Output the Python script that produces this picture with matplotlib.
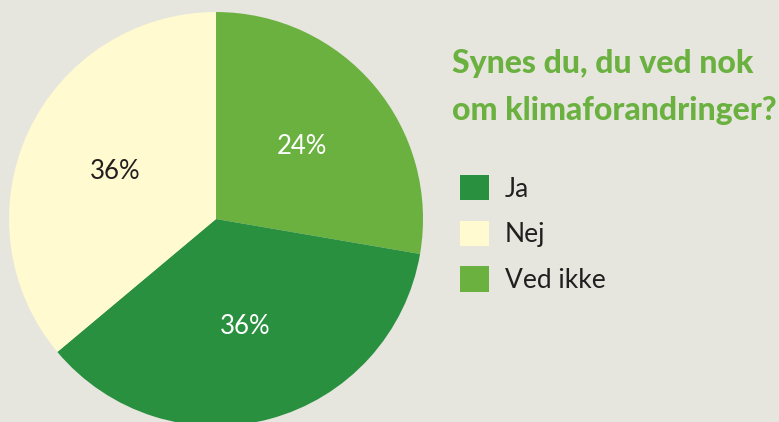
import matplotlib.pyplot as plt

kategorier = ['Ved ikke', 'Ja', 'Nej']
andele = [27.7, 36.2, 36.1]
etiketter = ['24%', '36%', '36%']
farver = ['#6ab140', '#28903e', '#fffad0']
tekstfarver = ['white', 'white', '#231f20']
legende_raekkefolge = ['Ja', 'Nej', 'Ved ikke']
titel = 'Synes du, du ved nok\nom klimaforandringer?'

baggrund = '#e6e5de'

fig = plt.figure(figsize=(7.79, 4.22), dpi=100, facecolor=baggrund)
ax = fig.add_axes([0.01155, -0.0095, 0.5315, 0.981])
ax.set_facecolor(baggrund)

kiler, tekster = ax.pie(andele, labels=etiketter, colors=farver, startangle=90,
                        counterclock=False, labeldistance=0.54, radius=1.0,
                        wedgeprops={'linewidth': 0})
for t, c in zip(tekster, tekstfarver):
    t.set_ha('center')
    t.set_va('center')
    t.set_color(c)
    t.set_fontsize(18.5)
    t.set_family('Lato')
ax.set_xlim(-1, 1)
ax.set_ylim(-1, 1)
ax.set_aspect('equal')

fig.text(452 / 779, 1 - 120 / 422, titel, color='#6ab140', fontsize=23,
         fontweight='black', family='Lato', ha='left', va='baseline',
         linespacing=1.75)

handles = [kiler[kategorier.index(k)] for k in legende_raekkefolge]
leg = fig.legend(handles, legende_raekkefolge, loc='upper left',
                 bbox_to_anchor=(460 / 779, 1 - 175 / 422), frameon=False,
                 prop={'family': 'Lato', 'size': 19}, handlelength=1.1,
                 handleheight=1.1, handletextpad=0.6, labelspacing=0.72,
                 borderpad=0, borderaxespad=0)
for t in leg.get_texts():
    t.set_color('#231f20')

fig.savefig('out.png', dpi=100, facecolor=baggrund)
